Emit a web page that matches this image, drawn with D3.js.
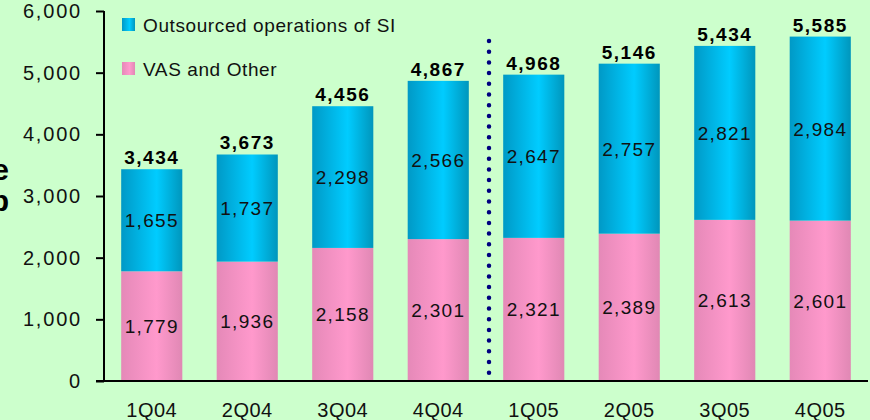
<!DOCTYPE html>
<html>
<head>
<meta charset="utf-8">
<script src="https://cdn.jsdelivr.net/npm/d3@7"></script>
<style>
  body { margin: 0; background: #CCFFCC; }
  svg { display: block; font-family: "Liberation Sans", Arial, sans-serif; }
</style>
</head>
<body>
<svg width="870" height="420"></svg>
<script>
// chart data
var quarters = ["1Q04", "2Q04", "3Q04", "4Q04", "1Q05", "2Q05", "3Q05", "4Q05"];
var vasOther = [1779, 1936, 2158, 2301, 2321, 2389, 2613, 2601];
var outsourced = [1655, 1737, 2298, 2566, 2647, 2757, 2821, 2984];
var totals = [3434, 3673, 4456, 4867, 4968, 5146, 5434, 5585];
var yTicks = [0, 1000, 2000, 3000, 4000, 5000, 6000];
var seriesNames = ["Outsourced operations of SI", "VAS and Other"];

var svg = d3.select("svg");
var fmt = d3.format(",");

var x = d3.scaleBand().domain(quarters).range([104, 868]).paddingInner(0.36).paddingOuter(0.18);
var y = d3.scaleLinear().domain([0, 6000]).range([381, 11]);

// gradients for the cylinder-ish bars
var defs = svg.append("defs");
function grad(id, edgeL, mid, edgeR) {
  var g = defs.append("linearGradient").attr("id", id).attr("x1", "0%").attr("x2", "100%");
  g.append("stop").attr("offset", "0%").attr("stop-color", edgeL);
  g.append("stop").attr("offset", "58%").attr("stop-color", mid);
  g.append("stop").attr("offset", "100%").attr("stop-color", edgeR);
}
grad("gBlue", "#0099C6", "#00CCFF", "#0096BC");
grad("gPink", "#E589B8", "#FF99CC", "#E088B4");

svg.append("rect").attr("width", 870).attr("height", 420).attr("fill", "#CCFFCC");

// clipped title glyphs on the left edge (cut in the original too)
svg.append("text").attr("x", 9).attr("y", 180).attr("text-anchor", "end")
  .attr("font-size", 30).attr("font-weight", "bold").text("e");
svg.append("text").attr("x", 9).attr("y", 211).attr("text-anchor", "end")
  .attr("font-size", 30).attr("font-weight", "bold").text("b");

// stacked data
var rows = quarters.map(function(q, i) {
  return {q: q, vas: vasOther[i], out: outsourced[i], total: totals[i]};
});

// pink (bottom)
svg.selectAll(".pink").data(rows).enter().append("rect")
  .attr("x", function(d) { return x(d.q); })
  .attr("width", x.bandwidth())
  .attr("y", function(d) { return y(d.vas); })
  .attr("height", function(d) { return y(0) - y(d.vas); })
  .attr("fill", "url(#gPink)");

// blue (top)
svg.selectAll(".blue").data(rows).enter().append("rect")
  .attr("x", function(d) { return x(d.q); })
  .attr("width", x.bandwidth())
  .attr("y", function(d) { return y(d.vas + d.out); })
  .attr("height", function(d) { return y(d.vas) - y(d.vas + d.out); })
  .attr("fill", "url(#gBlue)");

// segment labels
function segLabel(accessor, lo) {
  svg.append("g").selectAll("text").data(rows).enter().append("text")
    .attr("x", function(d) { return x(d.q) + x.bandwidth() / 2; })
    .attr("y", function(d) { var b = lo(d); return (y(b) + y(b + accessor(d))) / 2 + 7; })
    .attr("text-anchor", "middle")
    .attr("font-size", 19)
    .attr("letter-spacing", 1.3)
    .attr("fill", "#111")
    .text(function(d) { return fmt(accessor(d)); });
}
segLabel(function(d) { return d.vas; }, function() { return 0; });
segLabel(function(d) { return d.out; }, function(d) { return d.vas; });

// totals
svg.append("g").selectAll("text").data(rows).enter().append("text")
  .attr("x", function(d) { return x(d.q) + x.bandwidth() / 2; })
  .attr("y", function(d) { return y(d.total) - 5; })
  .attr("text-anchor", "middle")
  .attr("font-size", 19)
  .attr("font-weight", "bold")
  .attr("letter-spacing", 1.5)
  .text(function(d) { return fmt(d.total); });

// dotted divider between 2004 and 2005
var divX = (x("4Q04") + x.bandwidth() + x("1Q05")) / 2 + 3;
svg.append("line")
  .attr("x1", divX).attr("x2", divX)
  .attr("y1", 41).attr("y2", 375)
  .attr("stroke", "#000080")
  .attr("stroke-width", 4.5)
  .attr("stroke-linecap", "round")
  .attr("stroke-dasharray", "0 10.7");

// y axis
var yAxis = svg.append("g").attr("transform", "translate(104,0)")
  .call(d3.axisLeft(y).tickValues(yTicks).tickFormat(fmt).tickSize(8).tickPadding(14));
yAxis.select(".domain").attr("stroke-width", 2).attr("d", "M0," + y(6000) + "V" + y(0));
yAxis.selectAll(".tick line").attr("stroke-width", 2);
yAxis.selectAll("text").attr("font-size", 20).attr("letter-spacing", 1.8)
  .attr("font-family", "Liberation Sans, Arial, sans-serif").attr("fill", "#111");

// x axis
var xAxis = svg.append("g").attr("transform", "translate(0," + y(0) + ")")
  .call(d3.axisBottom(x).tickSize(0).tickPadding(22));
xAxis.select(".domain").attr("stroke-width", 2).attr("d", "M96,0H868");
xAxis.selectAll("text").attr("font-size", 20).attr("letter-spacing", 0.5)
  .attr("font-family", "Liberation Sans, Arial, sans-serif").attr("fill", "#111");

// legend
var legend = svg.append("g");
var legendFills = ["url(#gBlue)", "url(#gPink)"];
seriesNames.forEach(function(name, i) {
  var ly = 18 + i * 44;
  legend.append("rect").attr("x", 122).attr("y", ly).attr("width", 13).attr("height", 13)
    .attr("fill", legendFills[i]);
  legend.append("text").attr("x", 143).attr("y", ly + 14)
    .attr("font-size", 19).attr("letter-spacing", 0.6).attr("fill", "#111").text(name);
});
</script>
</body>
</html>
